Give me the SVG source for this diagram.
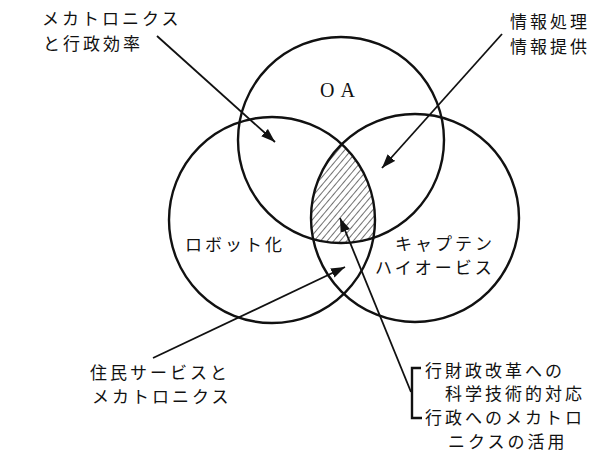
<svg xmlns="http://www.w3.org/2000/svg" width="591" height="452" viewBox="0 0 591 452">
<style>
.c{fill:none;stroke:#111;stroke-width:2.4}
.a{fill:none;stroke:#111;stroke-width:1.8}
.t{font-family:"Noto Sans CJK JP","Noto Sans",sans-serif;font-size:17px;letter-spacing:3px;fill:#111}
.s{font-family:"Liberation Serif",serif;font-size:20px;letter-spacing:6px;fill:#111}
</style>
<defs>
<marker id="ah" markerUnits="userSpaceOnUse" markerWidth="16" markerHeight="12" refX="14" refY="5" orient="auto">
<path d="M0,0 L14,5 L0,10 Z" fill="#111"/>
</marker>
<pattern id="hatch" width="5" height="5" patternUnits="userSpaceOnUse" patternTransform="rotate(40)">
<line x1="0" y1="0" x2="0" y2="5" stroke="#111" stroke-width="1.2"/>
</pattern>
<clipPath id="cA"><circle cx="341" cy="140" r="103"/></clipPath>
<clipPath id="cB"><circle cx="272" cy="220" r="103"/></clipPath>
<clipPath id="cC"><circle cx="415" cy="218" r="104"/></clipPath>
</defs>
<rect width="591" height="452" fill="#fff"/>
<g id="hatched" clip-path="url(#cA)">
<g clip-path="url(#cB)">
<rect x="200" y="100" width="250" height="200" fill="url(#hatch)" clip-path="url(#cC)"/>
</g>
</g>
<g id="oa">
<circle class="c" cx="341" cy="140" r="103"/>
<text class="s" x="320" y="97">OA</text>
</g>
<g id="robot">
<circle class="c" cx="272" cy="220" r="103"/>
<text class="t" x="185" y="251">ロボット化</text>
</g>
<g id="captain">
<circle class="c" cx="415" cy="218" r="104"/>
<text class="t" x="395" y="250">キャプテン</text>
<text class="t" x="375" y="274">ハイオービス</text>
</g>
<g id="connectors">
<line class="a" x1="157" y1="36" x2="275" y2="142" marker-end="url(#ah)"/>
<line class="a" x1="502" y1="34" x2="382" y2="168" marker-end="url(#ah)"/>
<line class="a" x1="153" y1="358" x2="345" y2="267" marker-end="url(#ah)"/>
<line class="a" x1="411" y1="392" x2="340" y2="218" marker-end="url(#ah)"/>
<path d="M421,368 H412 V418 H422" fill="none" stroke="#111" stroke-width="2.4"/>
</g>
<g id="label-mecha">
<text class="t" x="42" y="25">メカトロニクス</text>
<text class="t" x="43" y="50">と行政効率</text>
</g>
<g id="label-info">
<text class="t" x="510" y="28">情報処理</text>
<text class="t" x="510" y="53">情報提供</text>
</g>
<g id="label-service">
<text class="t" x="90" y="379">住民サービスと</text>
<text class="t" x="92" y="403">メカトロニクス</text>
</g>
<g id="label-reform">
<text class="t" x="425" y="377">行財政改革への</text>
<text class="t" x="445" y="400">科学技術的対応</text>
<text class="t" x="425" y="424">行政へのメカトロ</text>
<text class="t" x="448" y="448">ニクスの活用</text>
</g>
</svg>
